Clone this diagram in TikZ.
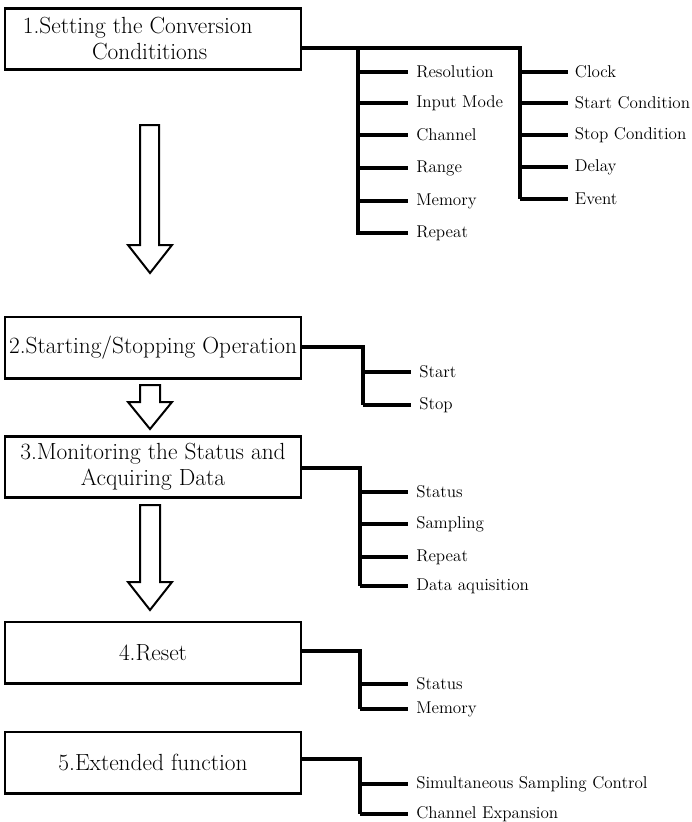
\documentclass[tikz,border=0pt]{standalone}
\begin{document}
\begin{tikzpicture}[x=0.75pt,y=-0.75pt,
  box/.style={draw,line width=2pt,minimum width=222pt,minimum height=46pt,inner sep=0pt,align=center,font=\fontsize{17.5}{19.5}\selectfont},
  lab/.style={anchor=west,inner xsep=6pt,inner ysep=0pt,font=\fontsize{12.8}{14}\selectfont},
  labr/.style={lab,inner xsep=5pt},
  trunk/.style={line width=3pt,line join=miter},
  vtrunk/.style={line width=3pt,line cap=rect},
  twig/.style={line width=3pt},
  blockarr/.style={draw,line width=1.5pt,fill=white,line join=miter}]
\useasboundingbox (0,0) rectangle (692,822);

% boxes
\node[box] (b1) at (153,39) {1.Setting the Conversion\hspace*{23pt}\\Condititions\hspace*{5pt}};
\node[box] (b2) at (153,347.5) {2.Starting/Stopping Operation};
\node[box] (b3) at (153,467) {3.Monitoring the Status and\\Acquiring Data};
\node[box] (b4) at (153,652.5) {4.Reset};
\node[box] (b5) at (153,762.5) {5.Extended function};

% block arrows
\draw[blockarr] (140,125) -- (159,125) -- (159,245) -- (172,245) -- (150,273) -- (128,245) -- (140,245) -- cycle;
\draw[blockarr] (140,385) -- (160,385) -- (160,402) -- (172,402) -- (150,429) -- (128,402) -- (140,402) -- cycle;
\draw[blockarr] (140,505) -- (160,505) -- (160,582) -- (172,582) -- (150,610) -- (128,582) -- (140,582) -- cycle;

% group 1
\coordinate (j1) at (358,48);
\coordinate (j2) at (520,48);
\node[lab] (a1) at (408,72) {Resolution};
\node[lab] (a2) at (408,103) {Input Mode};
\node[lab] (a3) at (408,135) {Channel};
\node[lab] (a4) at (408,168) {Range};
\node[lab] (a5) at (408,201) {Memory};
\node[lab] (a6) at (408,233) {Repeat};
\node[labr] (c1) at (568,72) {Clock};
\node[labr] (c2) at (568,103) {Start Condition};
\node[labr] (c3) at (568,135) {Stop Condition};
\node[labr] (c4) at (568,167) {Delay};
\node[labr] (c5) at (568,199) {Event};
\draw[trunk] (b1.east |- j2) -- (j2) -- (j2 |- c5.west);
\draw[vtrunk] (j1) -- (j1 |- a6.west);
\foreach \n in {a1,a2,a3,a4,a5,a6} \draw[twig] (j1 |- \n.west) -- (\n.west);
\foreach \n in {c1,c2,c3,c4,c5} \draw[twig] (j2 |- \n.west) -- (\n.west);

% group 2
\coordinate (k2) at (363,347);
\node[lab] (s1) at (411,372) {Start};
\node[lab] (s2) at (411,405) {Stop};
\draw[trunk] (b2.east |- k2) -- (k2) -- (k2 |- s2.west);
\foreach \n in {s1,s2} \draw[twig] (k2 |- \n.west) -- (\n.west);

% group 3
\coordinate (k3) at (360,468);
\node[lab] (m1) at (408,492) {Status};
\node[lab] (m2) at (408,524) {Sampling};
\node[lab] (m3) at (408,557) {Repeat};
\node[lab] (m4) at (408,586) {Data aquisition};
\draw[trunk] (b3.east |- k3) -- (k3) -- (k3 |- m4.west);
\foreach \n in {m1,m2,m3,m4} \draw[twig] (k3 |- \n.west) -- (\n.west);

% group 4
\coordinate (k4) at (360,651);
\node[lab] (r1) at (408,684) {Status};
\node[lab] (r2) at (408,709) {Memory};
\draw[trunk] (b4.east |- k4) -- (k4) -- (k4 |- r2.west);
\foreach \n in {r1,r2} \draw[twig] (k4 |- \n.west) -- (\n.west);

% group 5
\coordinate (k5) at (360,759);
\node[lab] (e1) at (408,784) {Simultaneous Sampling Control};
\node[lab] (e2) at (408,814) {Channel Expansion};
\draw[trunk] (b5.east |- k5) -- (k5) -- (k5 |- e2.west);
\foreach \n in {e1,e2} \draw[twig] (k5 |- \n.west) -- (\n.west);
\end{tikzpicture}
\end{document}
